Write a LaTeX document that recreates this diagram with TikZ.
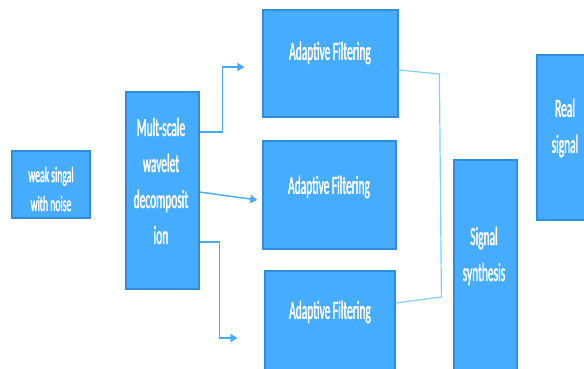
\documentclass[tikz,border=0pt]{standalone}
\usepackage{fontspec}
\newfontfamily\boxfont[FakeStretch=0.44,FakeBold=1.5]{Carlito}
\usetikzlibrary{arrows.meta}
\definecolor{boxblue}{RGB}{69,172,255}
\definecolor{edgeblue}{RGB}{48,140,220}
\definecolor{linkblue}{RGB}{70,170,250}
\definecolor{mergeblue}{RGB}{130,208,250}
\tikzstyle{block} = [
    rectangle,
    fill=boxblue,
    draw=edgeblue,
    line width=1.2pt,
    inner sep=0pt
]
\tikzstyle{blocktext} = [
    text=white,
    align=center,
    inner sep=0pt,
    font=\boxfont\fontsize{26}{36}\selectfont
]
\tikzstyle{arrow} = [line width=1.4pt, draw=linkblue, ->, >={Triangle[length=7pt,width=8pt]}]
\tikzstyle{merge} = [line width=1.2pt, draw=mergeblue]

\begin{document}
\begin{tikzpicture}[x=1pt, y=-1pt]

\path[use as bounding box] (0,0) rectangle (584,369);
\clip (0,0) rectangle (584,369);

\node (weak) [block, minimum width=78, minimum height=67] at (51,184.5) {};
\node (weaktxt) [blocktext, font=\boxfont\fontsize{22}{29}\selectfont] at (51,189)
{weak singal\\with noise};

\node (mult) [block, minimum width=73, minimum height=197] at (162.5,190.5) {};
\node (multtxt) [blocktext] at (161,181)
{Mult-scale\\wavelet\\decomposit\\ion};

\node (af1) [block, minimum width=135, minimum height=107] at (330.5,63.5) {};
\node (af1txt) [blocktext] at (330,53) {Adaptive Filtering};

\node (af2) [block, minimum width=133, minimum height=108] at (329.5,195) {};
\node (af2txt) [blocktext] at (329,187) {Adaptive Filtering};

\node (af3) [block, minimum width=130, minimum height=107] at (330,324.5) {};
\node (af3txt) [blocktext] at (330,312) {Adaptive Filtering};

\node (synth) [block, minimum width=63, minimum height=220] at (485.5,270) {};
\node (synthtxt) [blocktext] at (484,256) {Signal\\synthesis};

\node (real) [block, minimum width=56, minimum height=165] at (565,137.5) {};
\node (realtxt) [blocktext] at (565,128) {Real\\signal};

% free ends of the arrows, just short of the filters
\coordinate (in1) at ([xshift=-18pt,yshift=-3.5pt]af1.west);
\coordinate (in2) at ([xshift=-5pt,yshift=-5pt]af2.west);
\coordinate (in3) at ([xshift=-27pt,yshift=-13.5pt]af3.west);

% bends of the merging line
\coordinate (j1) at ([xshift=-14pt,yshift=196pt]synth.west);
\coordinate (j2) at ([xshift=-12pt,yshift=-27pt]synth.west);

\draw [arrow] ([yshift=58.5pt]mult.east) -- ++(23,0) |- (in1);
\draw [arrow] ([yshift=-1.5pt]mult.east) -- (in2);
\draw [arrow] ([yshift=-51.5pt]mult.east) -- ++(20,0) |- (in3);

\draw [merge] ([yshift=-6.5pt]af1.east) -- (j1) -- (j2) -- ([yshift=21.5pt]af3.east);

\end{tikzpicture}
\end{document}
